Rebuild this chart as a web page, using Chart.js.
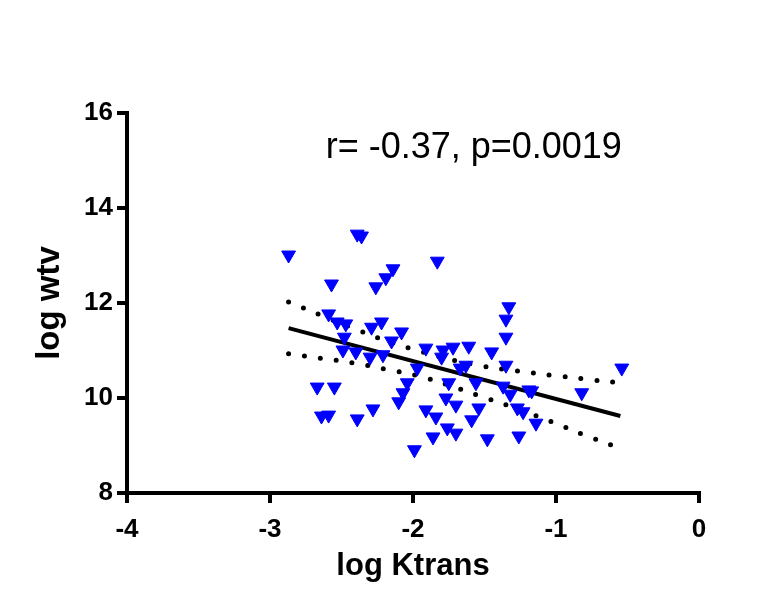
<!DOCTYPE html>
<html>
<head>
<meta charset="utf-8">
<script src="https://cdn.jsdelivr.net/npm/chart.js@4.4.0/dist/chart.umd.min.js"></script>
<style>
  html, body { margin: 0; padding: 0; background: #fff; }
  canvas { display: block; }
</style>
</head>
<body>
<canvas id="chart" width="771" height="589"></canvas>
<script>
// scatter values
const ktrans = [
  -2.87, -2.39, -2.36, -2.57, -2.14, -2.19, -2.26, -2.59, -2.53, -2.47,
  -2.48, -2.22, -2.29, -2.15, -2.08, -2.49, -2.40, -2.30, -2.21, -1.97,
  -2.67, -2.55, -2.04, -2.07, -2.10, -2.64, -2.59, -2.39, -2.28, -1.99,
  -1.83, -1.33, -1.35, -1.35, -1.91, -1.79, -1.72, -1.61, -1.45, -1.80,
  -1.67, -1.63, -1.35, -1.75, -1.56, -1.37, -1.32, -1.19, -1.17, -1.77,
  -1.70, -1.54, -1.91, -1.84, -1.59, -1.27, -1.23, -1.14, -1.76, -1.70,
  -1.86, -1.48, -1.26, -0.54, -0.82
];
const wtv = [
  13.01, 13.45, 13.41, 12.40, 12.72, 12.53, 12.34, 11.77, 11.60, 11.56,
  11.28, 11.60, 11.49, 11.20, 11.39, 11.01, 10.97, 10.86, 10.91, 10.63,
  10.23, 10.23, 10.32, 10.11, 9.92, 9.62, 9.64, 9.56, 9.77, 8.91,
  12.88, 11.92, 11.66, 11.28, 11.05, 11.01, 11.07, 11.09, 10.97, 10.86,
  10.63, 10.69, 10.69, 10.32, 10.32, 10.25, 10.08, 10.17, 10.15, 10.00,
  9.85, 9.79, 9.75, 9.60, 9.54, 9.79, 9.71, 9.47, 9.37, 9.26,
  9.18, 9.14, 9.20, 10.63, 10.11
];

// regression line and 95% band
const fitX = [-2.87, -0.55];
const fitY = [11.47, 9.62];
const bandX = [-2.87, -2.65, -2.42, -2.20, -1.98, -1.75, -1.51, -1.27, -1.03, -0.80, -0.56];
const upperY = [12.02, 11.75, 11.47, 11.22, 11.01, 10.82, 10.67, 10.57, 10.48, 10.40, 10.32];
const lowerY = [10.93, 10.84, 10.74, 10.61, 10.48, 10.27, 10.02, 9.77, 9.50, 9.22, 8.95];

const xTicks = [-4, -3, -2, -1, 0];
const yTicks = [8, 10, 12, 14, 16];
const note = "r= -0.37, p=0.0019";

const pts = (xs, ys) => xs.map((x, i) => ({ x: x, y: ys[i] }));

const FONT = "'Liberation Sans', Arial, sans-serif";

const notePlugin = {
  id: "note",
  afterDraw(chart) {
    const ctx = chart.ctx;
    const sx = chart.scales.x, sy = chart.scales.y;
    ctx.save();
    ctx.font = "36px " + FONT;
    ctx.fillStyle = "#000";
    ctx.textAlign = "center";
    ctx.textBaseline = "alphabetic";
    ctx.fillText(note, sx.getPixelForValue(-1.575), sy.getPixelForValue(15.05));
    ctx.restore();
  },
};

new Chart(document.getElementById("chart"), {
  type: "scatter",
  data: {
    datasets: [
      {
        label: "data",
        data: pts(ktrans, wtv),
        pointStyle: "triangle",
        rotation: 180,
        radius: 8,
        backgroundColor: "#0000ff",
        borderColor: "#0000ff",
        borderWidth: 1,
        order: 0,
      },
      {
        label: "fit",
        type: "line",
        data: pts(fitX, fitY),
        borderColor: "#000",
        borderWidth: 4,
        pointRadius: 0,
        order: 1,
      },
      {
        label: "upper",
        type: "line",
        data: pts(bandX, upperY),
        borderColor: "#000",
        borderWidth: 5,
        borderDash: [0, 16],
        borderCapStyle: "round",
        tension: 0.4,
        pointRadius: 0,
        order: 2,
      },
      {
        label: "lower",
        type: "line",
        data: pts(bandX, lowerY),
        borderColor: "#000",
        borderWidth: 5,
        borderDash: [0, 16],
        borderCapStyle: "round",
        tension: 0.4,
        pointRadius: 0,
        order: 2,
      },
    ],
  },
  options: {
    responsive: false,
    animation: false,
    clip: false,
    layout: { padding: { left: 30, right: 72, top: 113, bottom: 4 } },
    plugins: { legend: { display: false }, tooltip: { enabled: false } },
    scales: {
      x: {
        type: "linear",
        min: -4,
        max: 0,
        afterFit: (s) => { s.height = 92; },
        afterBuildTicks: (s) => { s.ticks = xTicks.map((v) => ({ value: v })); },
        border: { color: "#000", width: 4 },
        grid: { drawOnChartArea: false, color: "#000", lineWidth: 4, tickLength: 10 },
        ticks: { color: "#000", padding: 11, font: { family: FONT, size: 26, weight: "bold" } },
        title: { display: true, text: "log Ktrans", color: "#000", padding: 0, font: { family: FONT, size: 31, weight: "bold" } },
      },
      y: {
        type: "linear",
        min: 8,
        max: 16,
        afterFit: (s) => { s.width = 97; },
        afterBuildTicks: (s) => { s.ticks = yTicks.map((v) => ({ value: v })); },
        border: { color: "#000", width: 4 },
        grid: { drawOnChartArea: false, color: "#000", lineWidth: 4, tickLength: 10 },
        ticks: { color: "#000", padding: 4, font: { family: FONT, size: 26, weight: "bold" } },
        title: { display: true, text: "log wtv", color: "#000", padding: 0, font: { family: FONT, size: 33, weight: "bold" } },
      },
    },
  },
  plugins: [notePlugin],
});
</script>
</body>
</html>
